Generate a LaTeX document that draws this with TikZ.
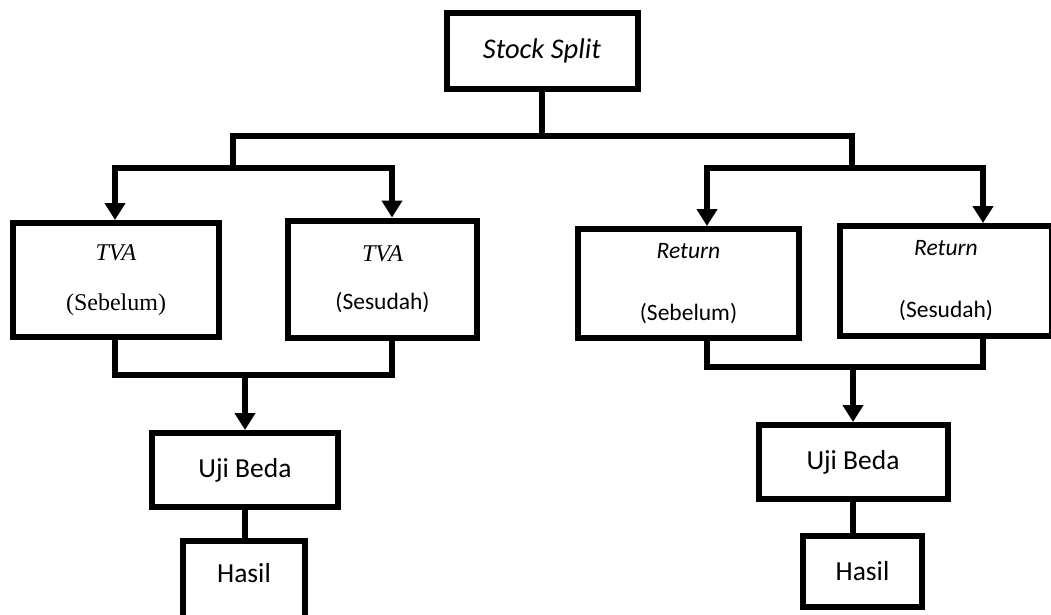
\documentclass[tikz,border=0pt]{standalone}
\usepackage{fontspec}
\setmainfont{Carlito}
\newfontfamily\timesfont{Liberation Serif}
\usetikzlibrary{arrows.meta,positioning}

\begin{document}
\begin{tikzpicture}[
x=1pt,y=-1pt,
box/.style={draw,line width=6pt,align=center,inner sep=0pt,
font=\fontsize{23.5}{28}\selectfont},
bigbox/.style={box,font=\fontsize{27.5}{34}\selectfont},
timesbox/.style={box,font=\timesfont\fontsize{24}{28}\selectfont},
link/.style={line width=6pt},
arr/.style={link,-{Triangle[width=20pt,length=17pt]}}
]
\useasboundingbox (0,0) rectangle (1051,615);
% boxes
\node[bigbox,minimum width=191pt,minimum height=76pt,font=\fontsize{28.5}{34}\selectfont] (split) at (542,51) {\textit{Stock Split}};
\node[timesbox,minimum width=206pt,minimum height=114pt] (tvaA) at (116,280)
{\textit{TVA}\\[22pt](Sebelum)};
\node[box,minimum width=189pt,minimum height=117pt] (tvaB) at (382.5,279)
{{\timesfont\fontsize{24}{28}\selectfont\textit{TVA}}\\[20pt](Sesudah)};
\node[box,minimum width=221pt,minimum height=109pt] (retA) at (688.5,283.5)
{\textit{Return}\\[34pt](Sebelum)};
\node[box,minimum width=212pt,minimum height=110pt] (retB) at (946,281)
{\textit{Return}\\[34pt](Sesudah)};
\node[bigbox,minimum width=186pt,minimum height=74pt] (ujiA) at (245,470) {Uji Beda};
\node[bigbox,minimum width=189pt,minimum height=74pt] (ujiB) at (853,462) {Uji Beda};
\node[bigbox,minimum width=122pt,minimum height=89pt,text depth=25pt] (hasilA) at (244,585.5) {Hasil};
\node[bigbox,minimum width=119pt,minimum height=71pt] (hasilB) at (862.5,571.5) {Hasil};
% fork points
\coordinate (forkL) at (233,168);
\coordinate (forkR) at (852,168);
\coordinate (barR) at (852,136);
\coordinate (tipA) at (115,168);
\coordinate (tipB) at (392,168);
\coordinate (tipC) at (707,168);
\coordinate (tipD) at (983,168);
% connectors
\draw[link] (split.south) -- (split.south |- barR);
\draw[link] (forkL) |- (barR) -- (forkR);
\draw[arr] (forkL) -- (tipA) -- (tipA |- tvaA.north);
\draw[arr] (forkL) -- (tipB) -- (tipB |- tvaB.north);
\draw[arr] (forkR) -- (tipC) -- (tipC |- retA.north);
\draw[arr] (forkR) -- (tipD) -- (tipD |- retB.north);
\draw[link] (tvaA.south -| tipA) -- ++(0,35) coordinate (mergeL) -| (tvaB.south -| tipB);
\draw[link] (retA.south -| tipC) -- ++(0,26) coordinate (mergeR) -| (retB.south -| tipD);
\draw[arr] (mergeL -| ujiA.north) -- (ujiA.north);
\draw[arr] (mergeR -| ujiB.north) -- (ujiB.north);
\draw[link] (ujiA.south) -- (ujiA.south |- hasilA.north);
\draw[link] (ujiB.south) -- (ujiB.south |- hasilB.north);
\end{tikzpicture}
\end{document}
